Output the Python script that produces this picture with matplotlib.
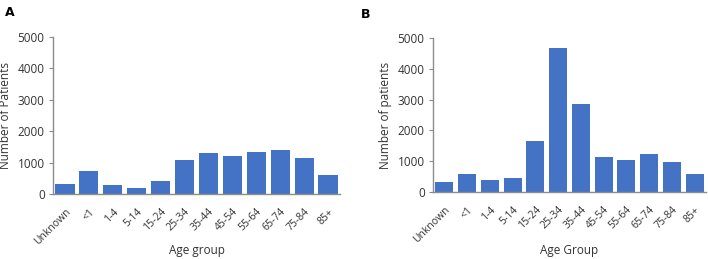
import matplotlib
matplotlib.use("Agg")
import matplotlib.pyplot as plt
import numpy as np

categories = ["Unknown", "<1", "1-4", "5-14", "15-24", "25-34", "35-44",
              "45-54", "55-64", "65-74", "75-84", "85+"]
values_a = [310, 740, 290, 205, 410, 1085, 1290, 1205, 1345, 1400, 1140, 615]
values_b = [330, 570, 405, 470, 1660, 4690, 2870, 1140, 1045, 1240, 990, 590]
yticks = [0, 1000, 2000, 3000, 4000, 5000]

plt.rcParams['font.family'] = ['Open Sans', 'DejaVu Sans']

W, H = 708, 259
fig = plt.figure(figsize=(W / 100, H / 100), dpi=100)

def make_axes(x0, x1, ytop, ybot):
    return fig.add_axes([x0 / W, 1 - ybot / H, (x1 - x0) / W, (ybot - ytop) / H])

bar_color = "#4472C4"
spine_color = "#8C8C8C"

panels = [
    (make_axes(53, 340, 37, 194), values_a, "Number of Patients", "Age group", "A", (5, 12), -0.357),
    (make_axes(433, 706, 38, 192), values_b, "Number of patients", "Age Group", "B", (361, 14), -0.383),
]

for ax, vals, ylab, xlab, letter, lpos, xly in panels:
    x = np.arange(len(categories))
    ax.bar(x, vals, width=0.8, color=bar_color)
    ax.set_xlim(-0.5, len(categories) - 0.5)
    ax.set_ylim(0, 5000)
    ax.set_yticks(yticks)
    ax.set_yticklabels([str(t) for t in yticks], fontsize=8.5, color="#333333")
    ax.set_xticks(x)
    ax.set_xticklabels(categories, rotation=45, ha="right", rotation_mode="anchor",
                       fontsize=7.5, color="#333333")
    ax.tick_params(axis="x", length=0, pad=9)
    ax.tick_params(axis="y", length=3, color=spine_color, pad=3)
    for s in ["top", "right"]:
        ax.spines[s].set_visible(False)
    for s in ["left", "bottom"]:
        ax.spines[s].set_color(spine_color)
        ax.spines[s].set_linewidth(1.0)
    ax.set_ylabel(ylab, fontsize=8.5, color="#333333", labelpad=4)
    ax.set_xlabel(xlab, fontsize=8.5, color="#333333", va="center")
    ax.xaxis.set_label_coords(0.5, xly)
    fig.text(lpos[0] / W, 1 - lpos[1] / H, letter, fontsize=9, fontweight="bold",
             va="center", ha="left", family="DejaVu Sans")

fig.savefig("out.png", dpi=100)
